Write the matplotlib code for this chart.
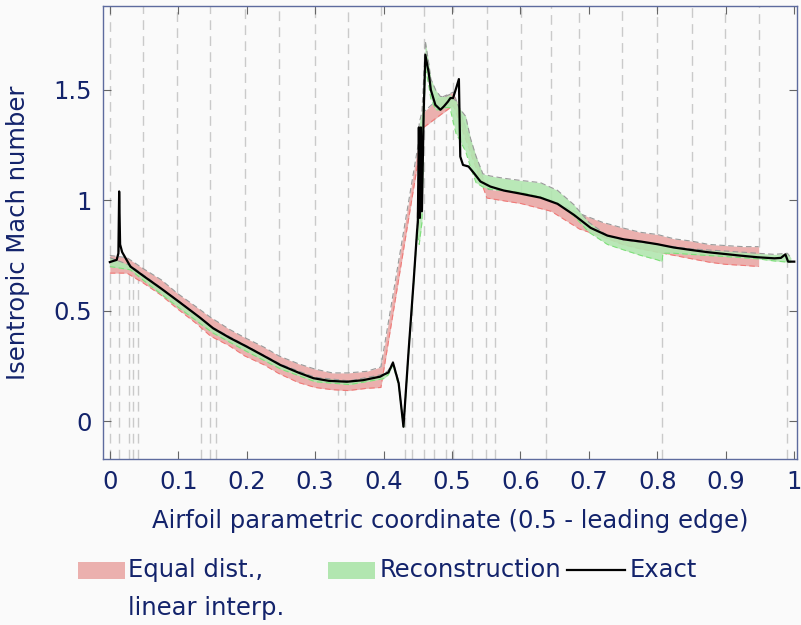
import matplotlib.pyplot as plt
import numpy as np
from matplotlib.patches import Rectangle
from matplotlib.lines import Line2D

# exact isentropic Mach number
exact_x = [0.0, 0.010, 0.0125, 0.0136, 0.015, 0.018, 0.030, 0.050, 0.075, 0.1024,
           0.131, 0.151, 0.175, 0.200, 0.225, 0.249, 0.275, 0.2975, 0.320, 0.3464,
           0.370, 0.395, 0.400, 0.407, 0.4137, 0.422, 0.429, 0.4366, 0.444, 0.449,
           0.450, 0.4515, 0.453, 0.4545, 0.456, 0.4585, 0.461, 0.466, 0.469, 0.4756,
           0.483, 0.488, 0.494, 0.4976, 0.5015, 0.506, 0.510, 0.512, 0.516, 0.524,
           0.532, 0.5415, 0.556, 0.5756, 0.600, 0.629, 0.654, 0.678, 0.7025, 0.727,
           0.751, 0.776, 0.800, 0.824, 0.849, 0.873, 0.8975, 0.922, 0.946, 0.971,
           0.9805, 0.987, 0.991, 1.0]
exact_y = [0.72, 0.73, 0.76, 1.04, 0.80, 0.765, 0.70, 0.655, 0.60, 0.537,
           0.47, 0.42, 0.377, 0.337, 0.295, 0.254, 0.22, 0.194, 0.182, 0.178,
           0.185, 0.201, 0.21, 0.22, 0.264, 0.171, -0.026, 0.322, 0.639, 0.866,
           0.90, 1.33, 0.92, 1.33, 0.95, 1.395, 1.659, 1.576, 1.50, 1.432,
           1.41, 1.425, 1.447, 1.463, 1.463, 1.508, 1.549, 1.198, 1.16, 1.153,
           1.123, 1.085, 1.062, 1.044, 1.030, 1.012, 0.984, 0.934, 0.875, 0.840,
           0.823, 0.813, 0.801, 0.786, 0.775, 0.765, 0.757, 0.749, 0.742, 0.737,
           0.739, 0.755, 0.722, 0.722]

# equal distribution, linear interpolation (band)
red_x = [0.0, 0.025, 0.049, 0.075, 0.098, 0.125, 0.147, 0.175, 0.197, 0.225,
         0.247, 0.275, 0.300, 0.325, 0.348, 0.375, 0.396, 0.4585, 0.480, 0.502,
         0.551, 0.601, 0.645, 0.686, 0.720, 0.749, 0.775, 0.800, 0.825, 0.850,
         0.875, 0.899, 0.925, 0.948]
red_hi = [0.75, 0.74, 0.69, 0.64, 0.58, 0.52, 0.47, 0.415, 0.378, 0.335,
          0.295, 0.26, 0.235, 0.218, 0.218, 0.225, 0.245, 1.40, 1.46, 1.49,
          1.05, 1.035, 1.0, 0.94, 0.90, 0.875, 0.855, 0.845, 0.825, 0.815,
          0.80, 0.795, 0.79, 0.79]
red_lo = [0.67, 0.67, 0.625, 0.57, 0.51, 0.445, 0.385, 0.34, 0.295, 0.255,
          0.215, 0.175, 0.152, 0.142, 0.138, 0.148, 0.152, 1.33, 1.38, 1.43,
          1.01, 0.985, 0.95, 0.87, 0.835, 0.80, 0.78, 0.765, 0.75, 0.735,
          0.72, 0.71, 0.705, 0.70]

# reconstruction (band)
green_x = [0.0, 0.03, 0.05, 0.1, 0.15, 0.2, 0.25, 0.3, 0.35, 0.40,
           0.407, 0.4137, 0.422, 0.429, 0.4366, 0.444, 0.449, 0.452, 0.456, 0.4585,
           0.461, 0.466, 0.469, 0.476, 0.483, 0.49, 0.497, 0.502, 0.506, 0.51,
           0.515, 0.52, 0.527, 0.535, 0.545, 0.556, 0.575, 0.60, 0.629, 0.654,
           0.678, 0.70, 0.727, 0.751, 0.776, 0.800, 0.807, 0.808, 0.824, 0.849,
           0.873, 0.90, 0.946, 0.971, 0.99, 0.995]
green_hi = [0.74, 0.705, 0.66, 0.545, 0.425, 0.34, 0.257, 0.198, 0.182, 0.212,
            0.23, 0.27, 0.18, -0.015, 0.33, 0.65, 0.875, 1.35, 1.40, 1.55,
            1.72, 1.62, 1.55, 1.50, 1.47, 1.47, 1.48, 1.46, 1.45, 1.42,
            1.40, 1.38, 1.28, 1.20, 1.12, 1.11, 1.10, 1.09, 1.08, 1.045,
            0.98, 0.90, 0.84, 0.82, 0.81, 0.80, 0.80, 0.795, 0.79, 0.78,
            0.775, 0.77, 0.76, 0.755, 0.76, 0.74]
green_lo = [0.70, 0.685, 0.635, 0.515, 0.40, 0.315, 0.235, 0.178, 0.165, 0.192,
            0.21, 0.255, 0.16, -0.035, 0.31, 0.63, 0.85, 0.80, 0.90, 1.35,
            1.60, 1.52, 1.46, 1.41, 1.41, 1.42, 1.42, 1.35, 1.30, 1.28,
            1.25, 1.22, 1.15, 1.08, 1.06, 1.05, 1.045, 1.035, 1.015, 0.985,
            0.93, 0.855, 0.80, 0.775, 0.75, 0.73, 0.722, 0.76, 0.76, 0.755,
            0.75, 0.745, 0.735, 0.725, 0.72, 0.72]

# sample positions
equal_pos = [0.0, 0.049, 0.098, 0.147, 0.197, 0.247, 0.300, 0.348, 0.396, 0.4585,
             0.502, 0.551, 0.601, 0.645, 0.686, 0.749, 0.800, 0.850, 0.899, 0.948]
recon_pos = [0.0, 0.0136, 0.0273, 0.034, 0.0413, 0.1332, 0.147, 0.1547, 0.333, 0.344,
             0.4307, 0.442, 0.4585, 0.473, 0.4918, 0.502, 0.5288, 0.549, 0.5625, 0.6373,
             0.807, 0.989]

bg = "#fafafa"
navy = "#13236b"
red = "#ebb0ae"
green = "#b2e6b0"
ymin, ymax = -0.172, 1.88
fs = 17.5

plt.rcParams["font.family"] = ["DejaVu Sans"]
plt.rcParams["font.size"] = fs

fig = plt.figure(figsize=(8.01, 6.25), dpi=100, facecolor=bg)
ax = fig.add_axes([103 / 801, 1 - 459 / 625, 694 / 801, 453 / 625])
ax.set_facecolor(bg)

# dashed sample markers
top_end = np.interp(equal_pos, red_x, red_hi)
ax.vlines(equal_pos, top_end, ymax, colors="#cacaca", lw=1, linestyles=(0, (7, 4.5)), zorder=1)
bot_end = np.interp(recon_pos, exact_x, exact_y)
ax.vlines(recon_pos, ymin, bot_end, colors="#cacaca", lw=1, linestyles=(0, (7, 4.5)), zorder=1)

ax.fill_between(red_x, red_lo, red_hi, color=red, lw=0, zorder=2)
ax.plot(red_x, red_hi, color="#9a9a9a", lw=0.8, ls=(0, (5, 3)), zorder=2)
ax.plot(red_x, red_lo, color="#f07a78", lw=0.8, ls=(0, (5, 3)), zorder=2)
ax.fill_between(green_x, green_lo, green_hi, color=green, alpha=0.9, lw=0, zorder=3)
ax.plot(green_x, green_hi, color="#9a9a9a", lw=0.8, ls=(0, (5, 3)), zorder=3)
ax.plot(green_x, green_lo, color="#7ee07a", lw=0.8, ls=(0, (5, 3)), zorder=3)
ax.plot(exact_x, exact_y, color="black", lw=1.6, zorder=4)

ax.set_xlim(-0.01, 1.004)
ax.set_ylim(ymin, ymax)
ax.set_xticks(np.arange(0, 1.01, 0.1))
ax.set_xticklabels(["0", "0.1", "0.2", "0.3", "0.4", "0.5", "0.6", "0.7", "0.8", "0.9", "1"])
ax.set_yticks([0, 0.5, 1, 1.5])
ax.set_yticklabels(["0", "0.5", "1", "1.5"])
ax.tick_params(direction="in", top=True, right=True, length=6, width=0.8,
               color="#666666", labelcolor=navy, labelsize=fs, pad=8)
for s in ax.spines.values():
    s.set_color("#5d6b9e")
    s.set_linewidth(1.0)

ax.set_xlabel("Airfoil parametric coordinate (0.5 - leading edge)", color=navy, fontsize=fs, labelpad=11)
ax.set_ylabel("Isentropic Mach number", color=navy, fontsize=fs, labelpad=17)

# legend below the axes
def fx(p):
    return p / 801

def fy(p):
    return 1 - p / 625

fig.add_artist(Rectangle((fx(78), fy(579)), 47 / 801, 17 / 625, transform=fig.transFigure,
                         facecolor=red, lw=0))
fig.text(fx(128), fy(570), "Equal dist.,", color=navy, fontsize=fs, va="center")
fig.text(fx(128), fy(608), "linear interp.", color=navy, fontsize=fs, va="center")
fig.add_artist(Rectangle((fx(328), fy(579)), 47 / 801, 17 / 625, transform=fig.transFigure,
                         facecolor=green, lw=0))
fig.text(fx(380), fy(570), "Reconstruction", color=navy, fontsize=fs, va="center")
fig.add_artist(Line2D([fx(567), fx(625)], [fy(570), fy(570)], transform=fig.transFigure,
                      color="black", lw=1.6))
fig.text(fx(630), fy(570), "Exact", color=navy, fontsize=fs, va="center")

fig.savefig("out.png", dpi=100, facecolor=bg)
